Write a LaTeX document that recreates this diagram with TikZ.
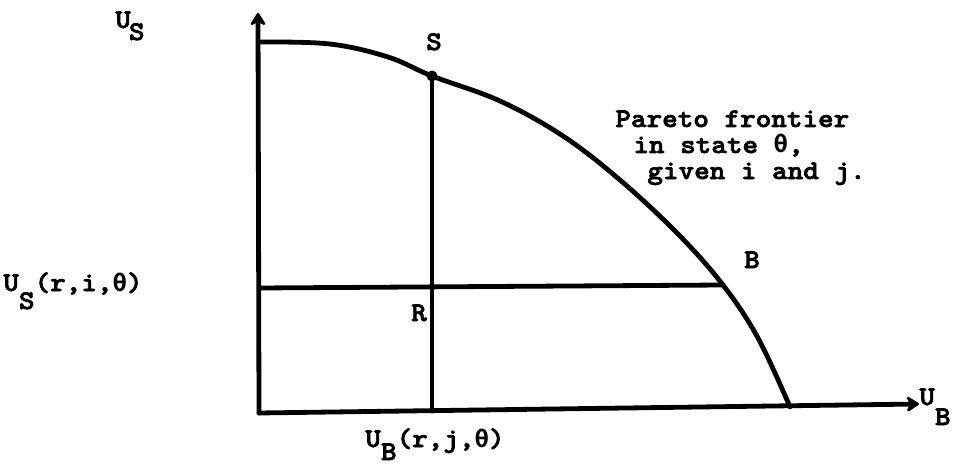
\documentclass[tikz,border=0pt]{standalone}
\usepackage{fontspec}
\newfontfamily\tw{lmmonolt10-bold.otf}[FakeStretch=1.1,FakeBold=2.5]
\newfontfamily\dv{DejaVu Sans Mono}
\usetikzlibrary{arrows.meta}
\newcommand{\thet}{{\dv\bfseries\fontsize{24}{28}\selectfont θ}}
\begin{document}
\begin{tikzpicture}[x=1pt,y=-1pt, line width=4.8pt, line cap=round, line join=round,
  lbl/.style={inner sep=0pt, anchor=base west, font=\tw\fontsize{27}{32}\selectfont},
  clbl/.style={lbl, anchor=base},
  axisline/.style={-{Stealth[length=15pt,width=19pt,inset=5pt,round]}},
  ]
\useasboundingbox (0,0) rectangle (959,468);
% key points
\coordinate (O) at (259,413);
\coordinate (ytip) at (258,13);
\coordinate (xtip) at (919,404);
\coordinate (top) at (259,42);
\coordinate (S) at (432,76);
\coordinate (B) at (723,285);
\coordinate (end) at (790,407);
\coordinate (Sfoot) at (432,411);
\coordinate (Bleft) at (259,288);
% axes
\draw[axisline] (O) -- (ytip);
\draw[axisline] (O) -- (xtip);
% Pareto frontier
\draw plot[smooth, tension=0.6] coordinates {(top) (330,44) (388,57) (S) (500,101) (563,136) (620,180) (678,234) (B) (758,338) (end)};
% guide lines
\draw (S) -- (Sfoot);
\draw (Bleft) -- (B);
\fill (S) circle (5.5pt);
% labels
\node[lbl] (us) at (113,28) {U\kern-2pt\raisebox{-12pt}{S}};
\node[lbl] (usr) at (1,291) {U\raisebox{-18pt}{S}(r,i,\thet)};
\node[lbl] (ubr) at (363,447) {U\raisebox{-13pt}{B}(r,j,\thet)};
\node[lbl] (ub) at (917,405) {U\raisebox{-20pt}{B}};
\node[clbl] (sl) at (434,50) {S};
\node[clbl] (rl) at (419,321) {R};
\node[clbl] (bl) at (752,268) {B};
\node[lbl] (p1) at (613,127) {Pareto frontier};
\node[lbl] (p2) at (631,153) {in state \thet,};
\node[lbl] (p3) at (645,179) {given i and j.};
\end{tikzpicture}
\end{document}
